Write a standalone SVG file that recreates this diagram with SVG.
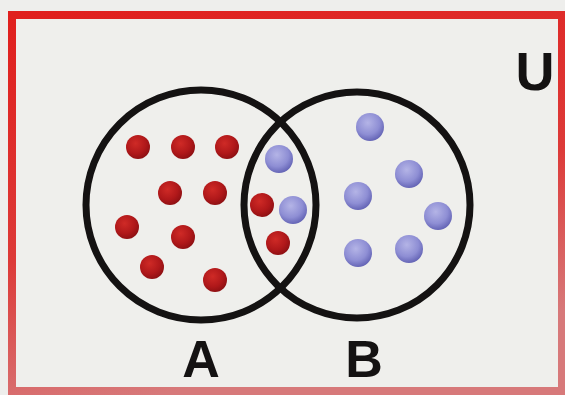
<svg xmlns="http://www.w3.org/2000/svg" width="565" height="395" viewBox="0 0 565 395">
  <defs>
    <radialGradient id="redDot" cx="0.4" cy="0.35" r="0.7">
      <stop offset="0" stop-color="#cf2a26"/>
      <stop offset="0.6" stop-color="#b0181a"/>
      <stop offset="1" stop-color="#8a0f12"/>
    </radialGradient>
    <radialGradient id="blueDot" cx="0.42" cy="0.35" r="0.7">
      <stop offset="0" stop-color="#b4b4e6"/>
      <stop offset="0.6" stop-color="#8e8ed4"/>
      <stop offset="1" stop-color="#5d5db0"/>
    </radialGradient>
    <linearGradient id="frame" x1="0" y1="0" x2="0.3" y2="1">
      <stop offset="0" stop-color="#e01f1d"/>
      <stop offset="0.6" stop-color="#dd3a38"/>
      <stop offset="1" stop-color="#d7797a"/>
    </linearGradient>
  </defs>
  <style>
    .set { fill: none; stroke: #141212; stroke-width: 7; }
    .r { fill: url(#redDot); }
    .b { fill: url(#blueDot); }
    .lbl { font-family: "Liberation Sans", Arial, sans-serif; font-weight: bold; fill: #141212; text-anchor: middle; }
  </style>
  <rect x="0" y="0" width="565" height="395" fill="#eeeeec"/>
  <g id="universe">
    <rect x="12" y="15" width="550" height="376" fill="#efefec" stroke="url(#frame)" stroke-width="8"/>
    <text class="lbl" x="535" y="90" font-size="54">U</text>
  </g>
  <g id="set-A">
    <circle class="set" cx="201" cy="205" r="115"/>
    <text class="lbl" x="201" y="377" font-size="52">A</text>
  </g>
  <g id="set-B">
    <circle class="set" cx="357" cy="205" r="113"/>
    <text class="lbl" x="364" y="377" font-size="52">B</text>
  </g>
  <g id="red-elements">
    <circle class="r" cx="138" cy="147" r="12"/>
    <circle class="r" cx="183" cy="147" r="12"/>
    <circle class="r" cx="227" cy="147" r="12"/>
    <circle class="r" cx="170" cy="193" r="12"/>
    <circle class="r" cx="215" cy="193" r="12"/>
    <circle class="r" cx="127" cy="227" r="12"/>
    <circle class="r" cx="183" cy="237" r="12"/>
    <circle class="r" cx="152" cy="267" r="12"/>
    <circle class="r" cx="215" cy="280" r="12"/>
    <circle class="r" cx="262" cy="205" r="12"/>
    <circle class="r" cx="278" cy="243" r="12"/>
  </g>
  <g id="blue-elements">
    <circle class="b" cx="279" cy="159" r="14"/>
    <circle class="b" cx="293" cy="210" r="14"/>
    <circle class="b" cx="370" cy="127" r="14"/>
    <circle class="b" cx="409" cy="174" r="14"/>
    <circle class="b" cx="358" cy="196" r="14"/>
    <circle class="b" cx="438" cy="216" r="14"/>
    <circle class="b" cx="358" cy="253" r="14"/>
    <circle class="b" cx="409" cy="249" r="14"/>
  </g>
</svg>
